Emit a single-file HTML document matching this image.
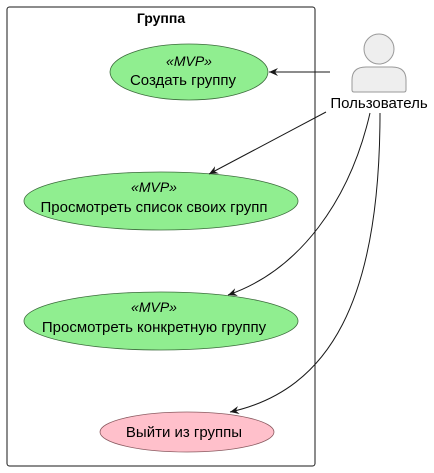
<!DOCTYPE html>
<html><head><meta charset="utf-8"><style>
html,body{margin:0;padding:0;background:#fff;}
svg{display:block;font-family:"Liberation Sans",sans-serif;}
</style></head><body>
<svg width="434" height="473" viewBox="0 0 434 473" xmlns="http://www.w3.org/2000/svg">
<defs><marker id="a" markerWidth="10" markerHeight="10" refX="9" refY="5" orient="auto" markerUnits="userSpaceOnUse"><path d="M0,1 L9,5 L0,9 L3,5 Z" fill="#181818"/></marker></defs>
<rect x="7" y="7" width="308" height="459" rx="2.5" fill="#fff" stroke="#181818" stroke-width="1"/>
<text x="161" y="23" font-size="14" font-weight="bold" text-anchor="middle" fill="#000">Группа</text>

<ellipse cx="189" cy="72" rx="79" ry="28" fill="#90EE90" stroke="#3b6b3b" stroke-width="0.8"/>
<text x="189" y="66" font-size="14" font-style="italic" text-anchor="middle">«MVP»</text>
<text x="183" y="85" font-size="15" text-anchor="middle">Создать группу</text>

<ellipse cx="161" cy="201" rx="137" ry="29" fill="#90EE90" stroke="#3b6b3b" stroke-width="0.8"/>
<text x="154" y="192" font-size="14" font-style="italic" text-anchor="middle">«MVP»</text>
<text x="154" y="212" font-size="15" text-anchor="middle">Просмотреть список своих групп</text>

<ellipse cx="161" cy="321" rx="137" ry="29" fill="#90EE90" stroke="#3b6b3b" stroke-width="0.8"/>
<text x="154" y="312" font-size="14" font-style="italic" text-anchor="middle">«MVP»</text>
<text x="154" y="332" font-size="15" text-anchor="middle">Просмотреть конкретную группу</text>

<ellipse cx="187" cy="432" rx="87" ry="20" fill="#FFC0CB" stroke="#8a5a60" stroke-width="0.8"/>
<text x="184" y="437" font-size="15" text-anchor="middle">Выйти из группы</text>

<circle cx="379" cy="49" r="15" fill="#eee" stroke="#999" stroke-width="1"/>
<path d="M352,90 L352,80 Q352,67 366,67 L392,67 Q406,67 406,80 L406,90 Q406,92 404,92 L354,92 Q352,92 352,90 Z" fill="#eee" stroke="#999" stroke-width="1"/>
<text x="379" y="108" font-size="15" text-anchor="middle">Пользователь</text>

<g fill="none" stroke="#181818" stroke-width="1">
<line x1="330" y1="72" x2="269" y2="72" marker-end="url(#a)"/>
<line x1="326" y1="112" x2="209" y2="174" marker-end="url(#a)"/>
<path d="M370,113 C350,200 300,270 228,295" marker-end="url(#a)"/>
<path d="M380,113 C380,300 330,390 230,412" marker-end="url(#a)"/>
</g>
</svg>
</body></html>
